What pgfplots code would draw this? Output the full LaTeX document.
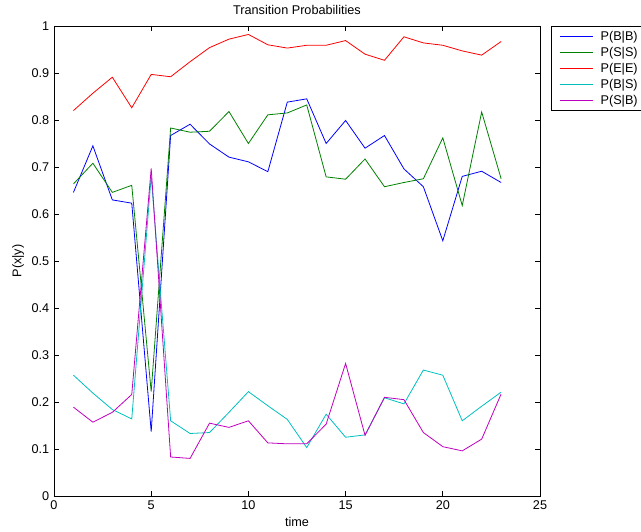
\documentclass[border=0pt]{standalone}
\usepackage{fontspec}
\setmainfont{Liberation Sans}
\usepackage{pgfplots}
\pgfplotsset{compat=1.18}
\definecolor{mblue}{rgb}{0,0,1}
\definecolor{mgreen}{rgb}{0,0.5,0}
\definecolor{mred}{rgb}{1,0,0}
\definecolor{mcyan}{rgb}{0,0.75,0.75}
\definecolor{mmag}{rgb}{0.75,0,0.75}
\begin{document}
\begin{tikzpicture}
\begin{axis}[
  name=ax,
  scale only axis, width=364.5pt, height=352.5pt,
  xmin=0, xmax=25, ymin=0, ymax=1,
  xtick={0,5,10,15,20,25},
  ytick={0,0.1,0.2,0.3,0.4,0.5,0.6,0.7,0.8,0.9,1},
  yticklabels={0,0.1,0.2,0.3,0.4,0.5,0.6,0.7,0.8,0.9,1},
  tick align=inside, major tick length=4pt,
  tick style={black, line width=0.5pt},
  axis line style={black, line width=0.7pt},
  font=\fontsize{9.5}{11}\selectfont,
  /pgf/number format/assume math mode=true,
  every axis title shift=0pt,
  title={Transition Probabilities},
  title style={at={(axis description cs:0.5,1.034)}, anchor=center, yshift=0pt, inner sep=0pt},
  xlabel={time},
  xlabel style={at={(axis description cs:0.5,-0.0553)}, anchor=center, inner sep=0pt},
  ylabel={P(x|y)},
  ylabel style={at={(axis description cs:-0.074,0.5)}, anchor=center, inner sep=0pt},
  legend cell align=left,
  legend style={at={(axis description cs:1,1)}, anchor=north west, xshift=8.25pt,
    draw=black, line width=0.6pt, font=\fontsize{9.5}{11}\selectfont,
    inner xsep=6pt, inner ysep=1.5pt, row sep=-0.4pt, column sep=3pt},
  legend image code/.code={\draw[#1, line width=0.9pt] (0pt,0pt) -- (25pt,0pt);},
  every axis plot/.append style={line width=0.6pt},
]
\addplot[mblue] coordinates {(1,0.646) (2,0.745) (3,0.630) (4,0.623) (5,0.137) (6,0.767) (7,0.791) (8,0.749) (9,0.721) (10,0.711) (11,0.690) (12,0.838) (13,0.845) (14,0.750) (15,0.799) (16,0.740) (17,0.767) (18,0.696) (19,0.658) (20,0.543) (21,0.680) (22,0.691) (23,0.667)};
\addlegendentry{P(B|B)}
\addplot[mgreen] coordinates {(1,0.664) (2,0.708) (3,0.646) (4,0.661) (5,0.222) (6,0.783) (7,0.774) (8,0.776) (9,0.818) (10,0.750) (11,0.811) (12,0.815) (13,0.832) (14,0.679) (15,0.674) (16,0.717) (17,0.658) (18,0.667) (19,0.675) (20,0.762) (21,0.618) (22,0.817) (23,0.675)};
\addlegendentry{P(S|S)}
\addplot[mred] coordinates {(1,0.820) (2,0.857) (3,0.891) (4,0.826) (5,0.897) (6,0.892) (7,0.924) (8,0.954) (9,0.972) (10,0.982) (11,0.960) (12,0.953) (13,0.959) (14,0.959) (15,0.969) (16,0.940) (17,0.927) (18,0.977) (19,0.964) (20,0.959) (21,0.947) (22,0.938) (23,0.967)};
\addlegendentry{P(E|E)}
\addplot[mcyan] coordinates {(1,0.257) (2,0.219) (3,0.184) (4,0.164) (5,0.680) (6,0.160) (7,0.133) (8,0.135) (9,0.178) (10,0.222) (11,0.192) (12,0.163) (13,0.103) (14,0.174) (15,0.125) (16,0.130) (17,0.209) (18,0.196) (19,0.268) (20,0.257) (21,0.160) (22,0.191) (23,0.221)};
\addlegendentry{P(B|S)}
\addplot[mmag] coordinates {(1,0.189) (2,0.157) (3,0.178) (4,0.216) (5,0.697) (6,0.083) (7,0.080) (8,0.155) (9,0.146) (10,0.160) (11,0.113) (12,0.111) (13,0.111) (14,0.153) (15,0.282) (16,0.129) (17,0.210) (18,0.205) (19,0.135) (20,0.105) (21,0.096) (22,0.121) (23,0.217)};
\addlegendentry{P(S|B)}
\end{axis}
\pgfresetboundingbox
\path[use as bounding box] ([shift={(-40.5pt,-26.25pt)}]ax.south west) rectangle ([shift={(75.75pt,19.5pt)}]ax.north east);
\end{tikzpicture}
\end{document}
